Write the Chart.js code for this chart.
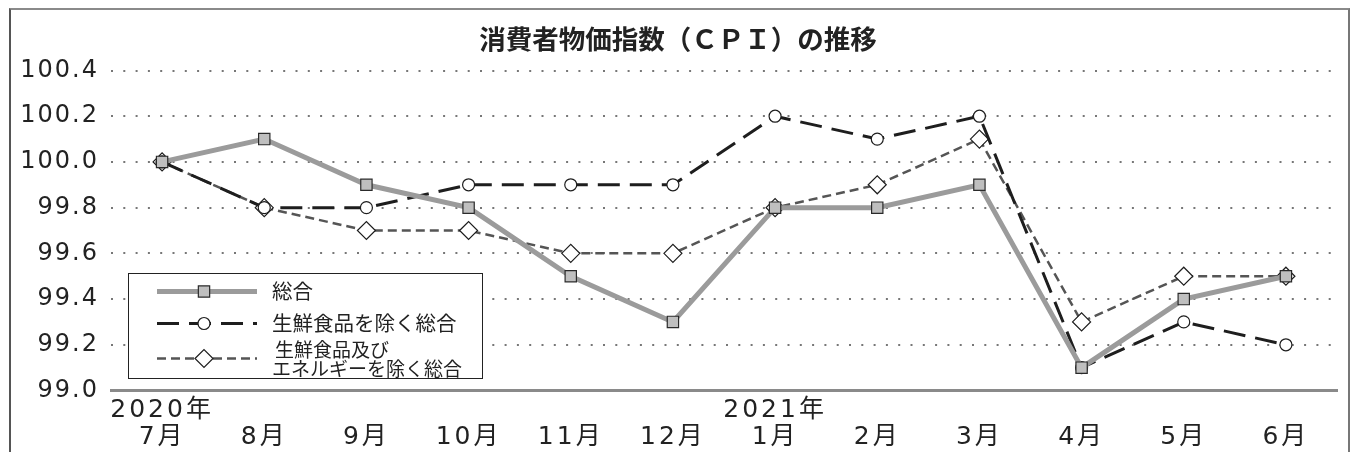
<!DOCTYPE html>
<html lang="ja">
<head>
<meta charset="utf-8">
<script src="https://cdn.jsdelivr.net/npm/chart.js@4/dist/chart.umd.min.js"></script>
<style>
  html, body { margin: 0; padding: 0; background: #fff; }
  #wrap { position: relative; width: 1352px; height: 452px; overflow: hidden; }
  #frame { position: absolute; left: 9px; top: 8px; width: 1341px; height: 470px;
           border-top: 2px solid #8a8a8a; border-left: 2px solid #555; border-right: 2px solid #777; box-sizing: border-box; pointer-events: none; }
  canvas { position: absolute; left: 0; top: 0; }
</style>
</head>
<body>
<div id="wrap">
  <canvas id="c" width="1352" height="452"></canvas>
  <div id="frame"></div>
</div>
<script>
// ---- data ----
const titleText = '消費者物価指数（ＣＰＩ）の推移';
const months = ['7月','8月','9月','10月','11月','12月','1月','2月','3月','4月','5月','6月'];
const years  = ['2020年','','','','','','2021年','','','','',''];
const seriesNames = ['総合', '生鮮食品を除く総合', '生鮮食品及びエネルギーを除く総合'];
const legendLines = [['総合'], ['生鮮食品を除く総合'], ['生鮮食品及び', 'エネルギーを除く総合']];
const sogo          = [100.0, 100.1, 99.9, 99.8, 99.5, 99.3, 99.8, 99.8, 99.9, 99.1, 99.4, 99.5];
const exFresh       = [100.0, 99.8, 99.8, 99.9, 99.9, 99.9, 100.2, 100.1, 100.2, 99.1, 99.3, 99.2];
const exFreshEnergy = [100.0, 99.8, 99.7, 99.7, 99.6, 99.6, 99.8, 99.9, 100.1, 99.3, 99.5, 99.5];
const yMin = 99.0, yMax = 100.4, yStep = 0.2;

const labels = months.map((m, i) => [years[i], m]);
const numFont = "'DejaVu Sans', 'Noto Sans CJK JP', sans-serif";
const jpFont = "'Noto Sans CJK JP', sans-serif";

function spacedLabels(px) {
  return function (scale) {
    if (scale._spacedPatched) return;
    const orig = scale.drawLabels;
    scale.drawLabels = function (area) {
      const ctx = this.ctx;
      ctx.save();
      try { ctx.letterSpacing = px + 'px'; } catch (e) {}
      orig.call(this, area);
      ctx.restore();
    };
    scale._spacedPatched = true;
  };
}

const titlePlugin = {
  id: 'customTitle',
  afterDraw(chart) {
    const ctx = chart.ctx;
    ctx.save();
    ctx.fillStyle = '#222';
    ctx.font = "bold 26.5px " + jpFont;
    ctx.textAlign = 'center';
    ctx.textBaseline = 'middle';
    ctx.fillText(titleText, 678, 39);
    ctx.restore();
  }
};

const legendPlugin = {
  id: 'boxLegend',
  afterDatasetsDraw(chart) {
    const ctx = chart.ctx;
    const bx = 128.5, by = 273.5, bw = 354, bh = 105;
    ctx.save();
    ctx.fillStyle = '#fff';
    ctx.fillRect(bx, by, bw, bh);
    ctx.strokeStyle = '#222';
    ctx.lineWidth = 1;
    ctx.strokeRect(bx, by, bw, bh);
    const rows = [291.5, 323.5, 358.5];
    const x1 = 157, x2 = 257, mx = 204;
    chart.data.datasets.forEach((ds, i) => {
      const y = rows[i];
      ctx.save();
      ctx.strokeStyle = ds.borderColor;
      ctx.lineWidth = ds.borderWidth;
      ctx.setLineDash(ds.borderDash || []);
      ctx.beginPath();
      ctx.moveTo(x1, y); ctx.lineTo(x2, y);
      ctx.stroke();
      ctx.restore();
      ctx.save();
      ctx.fillStyle = ds.pointBackgroundColor;
      ctx.strokeStyle = ds.pointBorderColor;
      ctx.lineWidth = ds.pointBorderWidth;
      ctx.beginPath();
      const r = ds.pointRadius;
      if (ds.pointStyle === 'rect') {
        const s = Math.SQRT1_2 * r;
        ctx.rect(mx - s, y - s, 2 * s, 2 * s);
      } else if (ds.pointStyle === 'rectRot') {
        ctx.moveTo(mx - r, y); ctx.lineTo(mx, y - r); ctx.lineTo(mx + r, y); ctx.lineTo(mx, y + r); ctx.closePath();
      } else {
        ctx.arc(mx, y, r, 0, Math.PI * 2);
      }
      ctx.fill(); ctx.stroke();
      ctx.restore();
      ctx.fillStyle = '#222';
      ctx.textBaseline = 'middle';
      ctx.textAlign = 'left';
      const lines = legendLines[i];
      if (lines.length === 1) {
        ctx.font = "20.5px " + jpFont;
        ctx.fillText(lines[0], 272, y);
      } else {
        ctx.font = "19px " + jpFont;
        ctx.fillText(lines[0], 275, 350);
        ctx.fillText(lines[1], 272, 369);
      }
    });
    ctx.restore();
  }
};

new Chart(document.getElementById('c'), {
  type: 'line',
  data: {
    labels: labels,
    datasets: [
      {
        label: seriesNames[0], data: sogo,
        borderColor: '#9b9b9b', borderWidth: 5, borderDash: [],
        pointStyle: 'rect', pointRadius: 8, pointBackgroundColor: '#bfbfbf',
        pointBorderColor: '#2a2a2a', pointBorderWidth: 1.2, tension: 0
      },
      {
        label: seriesNames[1], data: exFresh,
        borderColor: '#1e1e1e', borderWidth: 3, borderDash: [22, 10],
        pointStyle: 'circle', pointRadius: 6, pointBackgroundColor: '#ffffff',
        pointBorderColor: '#1e1e1e', pointBorderWidth: 1.2, tension: 0
      },
      {
        label: seriesNames[2], data: exFreshEnergy,
        borderColor: '#555555', borderWidth: 2.5, borderDash: [9, 5],
        pointStyle: 'rectRot', pointRadius: 9, pointBackgroundColor: '#ffffff',
        pointBorderColor: '#1e1e1e', pointBorderWidth: 1.2, tension: 0
      }
    ]
  },
  options: {
    responsive: false,
    animation: false,
    layout: { padding: { left: 0, right: 15, top: 70.5, bottom: 0 } },
    plugins: {
      legend: { display: false },
      tooltip: { enabled: false },
      title: { display: false }
    },
    scales: {
      x: {
        offset: true,
        grid: { drawOnChartArea: false, drawTicks: false },
        border: { display: true, color: '#8a8a8a', width: 3 },
        ticks: { color: '#222', font: { family: numFont, size: 25, lineHeight: 1.1 },
                 padding: 6, maxRotation: 0, autoSkip: false },
        afterFit(scale) { scale.height = 61.5; },
        afterUpdate: spacedLabels(3)
      },
      y: {
        min: yMin, max: yMax,
        grid: { color: '#777', lineWidth: 2, drawTicks: false },
        border: { display: false, dash: [2, 10.3] },
        ticks: { stepSize: yStep, color: '#222', padding: 12,
                 font: { family: numFont, size: 24 },
                 callback: v => Number(v).toFixed(1) },
        afterFit(scale) { scale.width = 111; },
        afterUpdate: spacedLabels(2)
      }
    }
  },
  plugins: [legendPlugin, titlePlugin]
});
</script>
</body>
</html>
